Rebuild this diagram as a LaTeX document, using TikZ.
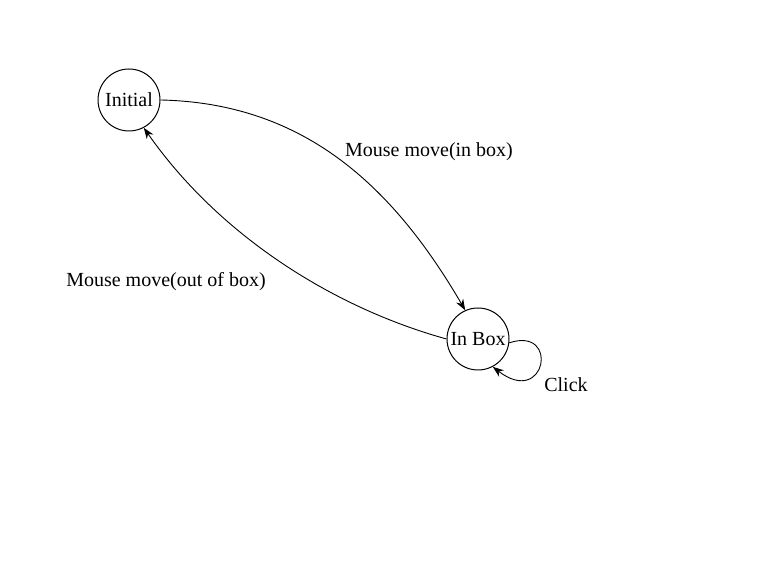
\documentclass[tikz,border=0pt]{standalone}
\usepackage{fontspec}
\setmainfont{Liberation Serif}
\usetikzlibrary{arrows.meta}
\begin{document}
\begin{tikzpicture}[x=1pt,y=1pt,
  state/.style={circle,draw,line width=1pt,minimum size=62pt,inner sep=0pt,font=\fontsize{20}{24}\selectfont},
  lbl/.style={font=\fontsize{20}{24}\selectfont,inner sep=0pt},
  conn/.style={line width=0.9pt,-{Stealth[length=11pt,width=8pt]}}]
\useasboundingbox (0,0) rectangle (772,564);
\node[state] (init) at (129,464) {Initial};
\node[state] (inbox) at (478,225) {In Box};
\draw[conn] (init.east) .. controls (300,461) and (390,383) .. (inbox.114);
\draw[conn] (inbox.west) .. controls (331,257) and (218,330) .. (init.-62);
\draw[conn] (inbox.-7) .. controls (560,238) and (546,156) .. (inbox.-62);
\node[lbl] (l1) at (429,412) {Mouse move(in box)};
\node[lbl] (l2) at (166,282) {Mouse move(out of box)};
\node[lbl] (l3) at (566,179) {Click};
\end{tikzpicture}
\end{document}
